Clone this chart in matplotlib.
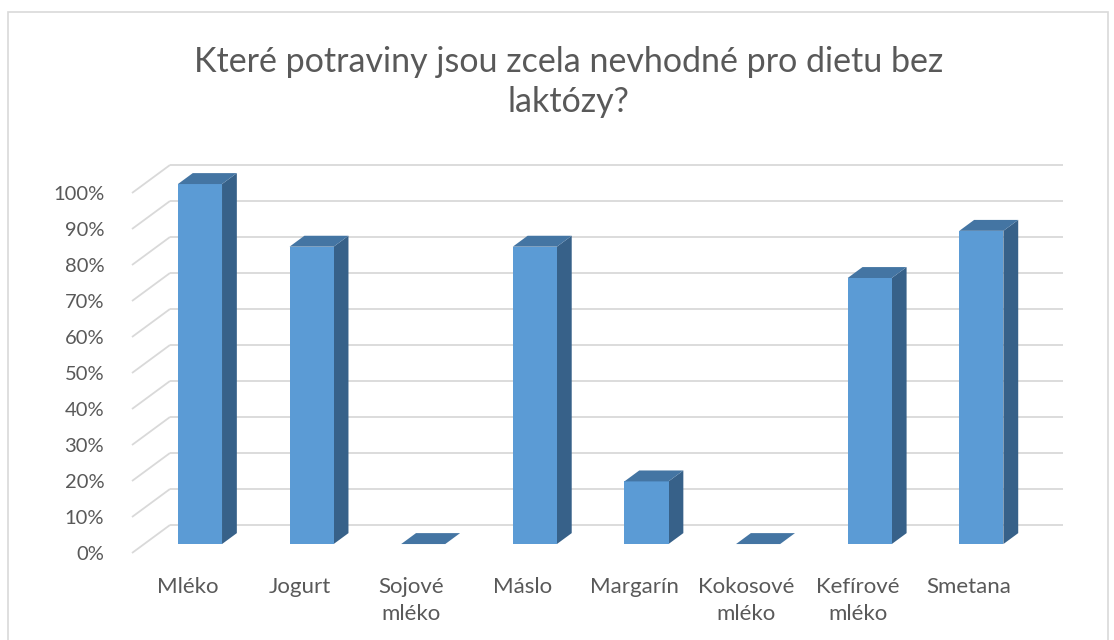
import matplotlib.pyplot as plt
from matplotlib.patches import Polygon, Rectangle

plt.rcParams['font.family'] = ['Lato', 'DejaVu Sans']

categories = ["Mléko", "Jogurt", "Sojové\nmléko", "Máslo", "Margarín",
              "Kokosové\nmléko", "Kefírové\nmléko", "Smetana"]
values = [100.0, 82.6, 0.0, 82.6, 17.4, 0.0, 73.9, 87.0]
yticks = [0, 10, 20, 30, 40, 50, 60, 70, 80, 90, 100]
ytick_labels = [f"{v}%" for v in yticks]
title = "Které potraviny jsou zcela nevhodné pro dietu bez\nlaktózy?"

TEXT = "#595959"
GRID = "#d9d9d9"
FRONT = "#5b9bd5"
TOP = "#4475a3"
SIDE = "#376189"

W, H = 1114, 640
fig = plt.figure(figsize=(W / 100, H / 100), dpi=100)

# chart border
fig.patches.append(Rectangle((8 / W, -0.1), 1100 / W, (H - 12) / H + 0.1,
                             transform=fig.transFigure, fill=False,
                             edgecolor=GRID, linewidth=1.2))

# axes = the front plane of the 3D floor/side wall
ax = fig.add_axes([132 / W, (H - 553) / H, 893 / W, 360 / H])
ax.set_xlim(-0.5, len(categories) - 0.5)
ax.set_ylim(0, 100)
for s in ax.spines.values():
    s.set_visible(False)
ax.patch.set_visible(False)

# depth of the 3D box in data units
DX = 0.3405
DY = 7.78
d_front, d_back = 0.32, 0.71
bw = 0.395

x_left, x_right = -0.5, len(categories) - 0.5

# gridlines: side wall diagonals + back wall horizontals
for v in yticks:
    ax.plot([x_left, x_left + DX], [v, v + DY], color=GRID, lw=1.3,
            clip_on=False, zorder=1, solid_capstyle='butt')
    ax.plot([x_left + DX, x_right + DX], [v + DY, v + DY], color=GRID, lw=1.3,
            clip_on=False, zorder=1, solid_capstyle='butt')

for i, v in enumerate(values):
    x0 = i - bw / 2
    x1 = i + bw / 2
    fx, fy = DX * d_front, DY * d_front
    bx, by = DX * d_back, DY * d_back
    front = [(x0 + fx, fy), (x1 + fx, fy), (x1 + fx, v + fy), (x0 + fx, v + fy)]
    top = [(x0 + fx, v + fy), (x1 + fx, v + fy), (x1 + bx, v + by), (x0 + bx, v + by)]
    side = [(x1 + fx, fy), (x1 + bx, by), (x1 + bx, v + by), (x1 + fx, v + fy)]
    for pts, c in ((side, SIDE), (front, FRONT), (top, TOP)):
        ax.add_patch(Polygon(pts, closed=True, facecolor=c, edgecolor='none',
                             clip_on=False, zorder=3))

ax.set_yticks(yticks)
ax.set_yticklabels(ytick_labels)
ax.set_xticks(range(len(categories)))
ax.set_xticklabels(categories, linespacing=1.45, va='top')
ax.tick_params(axis='y', length=0, pad=20, labelsize=14.5, labelcolor=TEXT)
ax.tick_params(axis='x', length=0, pad=17, labelsize=16, labelcolor=TEXT)

fig.text(0.51, (H - 82) / H, title, ha='center', va='center', fontsize=24.5,
         color=TEXT, linespacing=1.3)

fig.savefig("out.png", dpi=100)
